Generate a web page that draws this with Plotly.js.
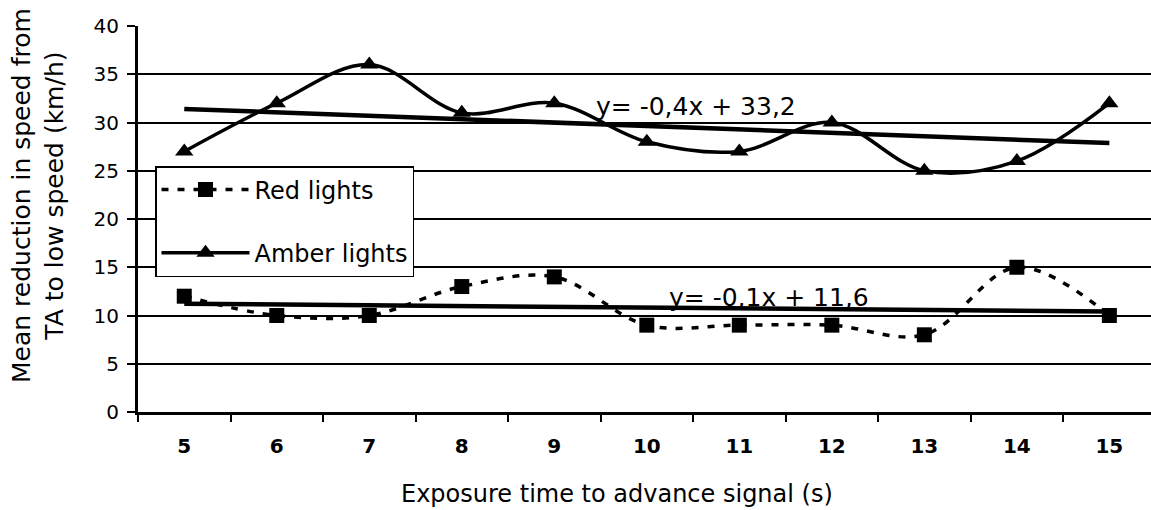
<!DOCTYPE html>
<html>
<head>
<meta charset="utf-8">
<script src="https://cdn.plot.ly/plotly-3.0.1.min.js"></script>
<style>html,body{margin:0;padding:0;background:#fff;}#chart{width:1151px;height:510px;}</style>
</head>
<body>
<div id="chart"></div>
<script>
const categories = ['5','6','7','8','9','10','11','12','13','14','15'];
const redLights = [12, 10, 10, 13, 14, 9, 9, 9, 8, 15, 10];
const amberLights = [27, 32, 36, 31, 32, 28, 27, 30, 25, 26, 32];
const redEquation = 'y= -0,1x + 11,6';
const amberEquation = 'y= -0,4x + 33,2';
const yTitle = 'Mean reduction in speed from<br>TA to low speed (km/h)';
const xTitle = 'Exposure time to advance signal (s)';

function linearTrend(vals) {
  const n = vals.length;
  let sx = 0, sy = 0, sxy = 0, sxx = 0;
  for (let i = 0; i < n; i++) {
    const x = i + 1;
    sx += x; sy += vals[i]; sxy += x * vals[i]; sxx += x * x;
  }
  const slope = (n * sxy - sx * sy) / (n * sxx - sx * sx);
  const intercept = (sy - slope * sx) / n;
  return vals.map((v, i) => intercept + slope * (i + 1));
}

const font = 'DejaVu Sans, Verdana, sans-serif';
const L = 138, W = 1013, T = 26, H = 386;
const px = v => (v - L) / W;
const py = v => (T + H - v) / H;

const traces = [
  {
    x: categories, y: redLights, name: 'Red lights', type: 'scatter', mode: 'lines+markers',
    line: {color: '#000', width: 3.5, dash: '7px,9px', shape: 'spline', smoothing: 1},
    marker: {symbol: 'square', size: 15, color: '#000'},
    legendgroup: 'a', legendrank: 1
  },
  {
    x: categories, y: amberLights, name: 'Amber lights', type: 'scatter', mode: 'lines+markers',
    line: {color: '#000', width: 3.5, shape: 'spline', smoothing: 1},
    marker: {symbol: 'triangle-up', size: 16, color: '#000'},
    legendgroup: 'b', legendrank: 2
  },
  {
    x: categories, y: linearTrend(redLights), type: 'scatter', mode: 'lines',
    line: {color: '#000', width: 4.5}, showlegend: false, hoverinfo: 'skip'
  },
  {
    x: categories, y: linearTrend(amberLights), type: 'scatter', mode: 'lines',
    line: {color: '#000', width: 4.5}, showlegend: false, hoverinfo: 'skip'
  }
];

const layout = {
  width: 1151, height: 510,
  margin: {l: L, r: 0, t: T, b: 510 - T - H},
  paper_bgcolor: '#fff', plot_bgcolor: '#fff',
  font: {family: font, color: '#000', size: 20},
  showlegend: true,
  legend: {
    x: px(155), y: py(166), xanchor: 'left', yanchor: 'top',
    bgcolor: '#fff', bordercolor: '#000', borderwidth: 1.5,
    font: {family: font, size: 24, color: '#000'},
    traceorder: 'grouped', tracegroupgap: 29, itemwidth: 88
  },
  xaxis: {
    type: 'category', range: [-0.5, 10.45],
    showline: true, linecolor: '#000', linewidth: 3,
    ticks: 'outside', tickson: 'boundaries', ticklen: 7, tickwidth: 2, tickcolor: '#000',
    ticklabelstandoff: 14,
    showgrid: false, zeroline: false,
    tickfont: {family: font, size: 20, color: '#000', weight: 'bold'}
  },
  yaxis: {
    range: [0, 40], tickvals: [0,5,10,15,20,25,30,35,40],
    showline: true, linecolor: '#000', linewidth: 3,
    ticks: 'outside', ticklen: 8, tickwidth: 2, tickcolor: '#000',
    ticklabelstandoff: 4,
    showgrid: true, gridcolor: '#000', gridwidth: 2, zeroline: false,
    tickfont: {family: font, size: 20, color: '#000'}
  },
  annotations: [
    {xref: 'paper', yref: 'paper', x: px(38), y: py(196), xanchor: 'center', yanchor: 'middle',
     textangle: -90, text: yTitle, showarrow: false, font: {family: font, size: 25, color: '#000'}},
    {xref: 'paper', yref: 'paper', x: px(617), y: py(494), xanchor: 'center', yanchor: 'middle',
     text: xTitle, showarrow: false, font: {family: font, size: 24, color: '#000'}},
    {xref: 'paper', yref: 'y', x: px(594), y: 31.7, xanchor: 'left', yanchor: 'middle',
     text: amberEquation, showarrow: false, font: {family: font, size: 25, color: '#000'}},
    {xref: 'paper', yref: 'y', x: px(667), y: 11.9, xanchor: 'left', yanchor: 'middle',
     text: redEquation, showarrow: false, font: {family: font, size: 25, color: '#000'}}
  ]
};

Plotly.newPlot('chart', traces, layout, {displayModeBar: false, staticPlot: true});
</script>
</body>
</html>
